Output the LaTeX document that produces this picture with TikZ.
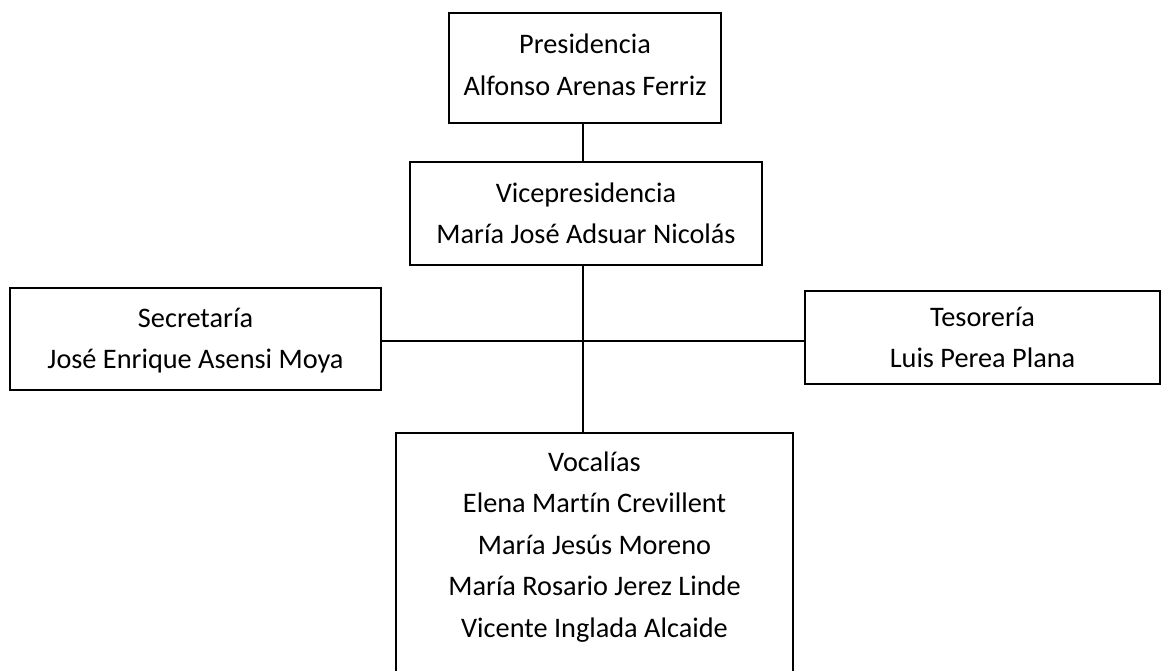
\documentclass[tikz,border=0pt]{standalone}
\usepackage{fontspec}
\setmainfont{Carlito}[Ligatures=NoCommon]
\usetikzlibrary{positioning}

\begin{document}
\begin{tikzpicture}[x=1pt,y=-1pt,
  cargo/.style={draw,line width=1.6pt,align=center,inner sep=0pt,
    font=\fontsize{28.3}{41.5}\selectfont},
  enlace/.style={line width=1.6pt}]
\clip (0,0) rectangle (1166,670);
\node[cargo,minimum width=272,minimum height=110,text depth=7pt] (pres) at (585,68) {Presidencia\\Alfonso Arenas Ferriz};
\node[cargo,minimum width=352,minimum height=103] (vice) at (586,213.5) {Vicepresidencia\\María José Adsuar Nicolás};
\node[cargo,minimum width=371,minimum height=102,text depth=1pt] (secr) at (195.5,339) {Secretaría\\José Enrique Asensi Moya};
\node[cargo,minimum width=355,minimum height=93] (teso) at (982.5,337.5) {Tesorería\\Luis Perea Plana};
\node[cargo,minimum width=397,inner ysep=19pt,text depth=100pt,anchor=north] (vocal) at (594.5,432)
  {Vocalías\\Elena Martín Crevillent\\María Jesús Moreno\\María Rosario Jerez Linde\\Vicente Inglada Alcaide};
\coordinate (eje) at (583,341);
\draw[enlace] (pres.south -| eje) -- (vice.north -| eje);
\draw[enlace] (vice.south -| eje) -- (vocal.north -| eje);
\draw[enlace] (secr.east |- eje) -- (teso.west |- eje);
\end{tikzpicture}
\end{document}
